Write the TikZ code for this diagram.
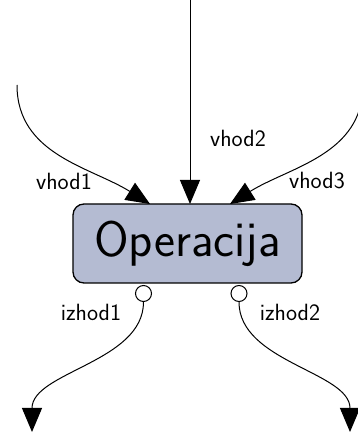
\documentclass[tikz,border=0pt]{standalone}
\usetikzlibrary{arrows.meta}
\definecolor{opfill}{RGB}{180,187,210}
\begin{document}
\begin{tikzpicture}[x=1pt,y=1pt,
  flow/.style={line width=1pt,-{Triangle[length=24pt,width=20pt]}},
  lbl/.style={font=\sffamily\fontsize{23.5}{26}\selectfont,inner sep=0pt},
  port/.style={circle,draw,line width=1pt,fill=white,minimum size=16pt,inner sep=0pt},
  opbox/.style={draw,line width=1.3pt,fill=opfill,rounded corners=11pt,
    minimum width=229pt,minimum height=79pt,
    font=\sffamily\fontsize{50}{54}\selectfont}]
\useasboundingbox (0,0) rectangle (358,432);
\begin{scope}
\clip (0,0) rectangle (358,432);
% operation block
\node[opbox] (op) at (187.5,188.5) {Operacija};
% input ends
\coordinate (in1) at (17,347);
\coordinate (in2) at (190,432);
\coordinate (in3) at (363,347);
\coordinate (t1) at (150,228);
\coordinate (t2) at (190,228);
\coordinate (t3) at (230,228);
\draw[flow] (in1) to[out=-90,in=148] (t1);
\draw[flow] (in2) -- (t2);
\draw[flow] (in3) to[out=-90,in=32] (t3);
% output ports
\node[port] (p1) at (143.5,138.5) {};
\node[port] (p2) at (239,138.5) {};
\coordinate (o1) at (32,0);
\coordinate (o2) at (350,0);
\draw[flow] (p1.south) to[out=-90,in=90,looseness=0.9] (o1);
\draw[flow] (p2.south) to[out=-90,in=90,looseness=0.9] (o2);
\end{scope}
% labels
\node[lbl] (l1) at (64,251) {vhod1};
\node[lbl] (l2) at (238,294) {vhod2};
\node[lbl] (l3) at (317,251) {vhod3};
\node[lbl] (l4) at (91,120) {izhod1};
\node[lbl] (l5) at (290,120) {izhod2};
\end{tikzpicture}
\end{document}
